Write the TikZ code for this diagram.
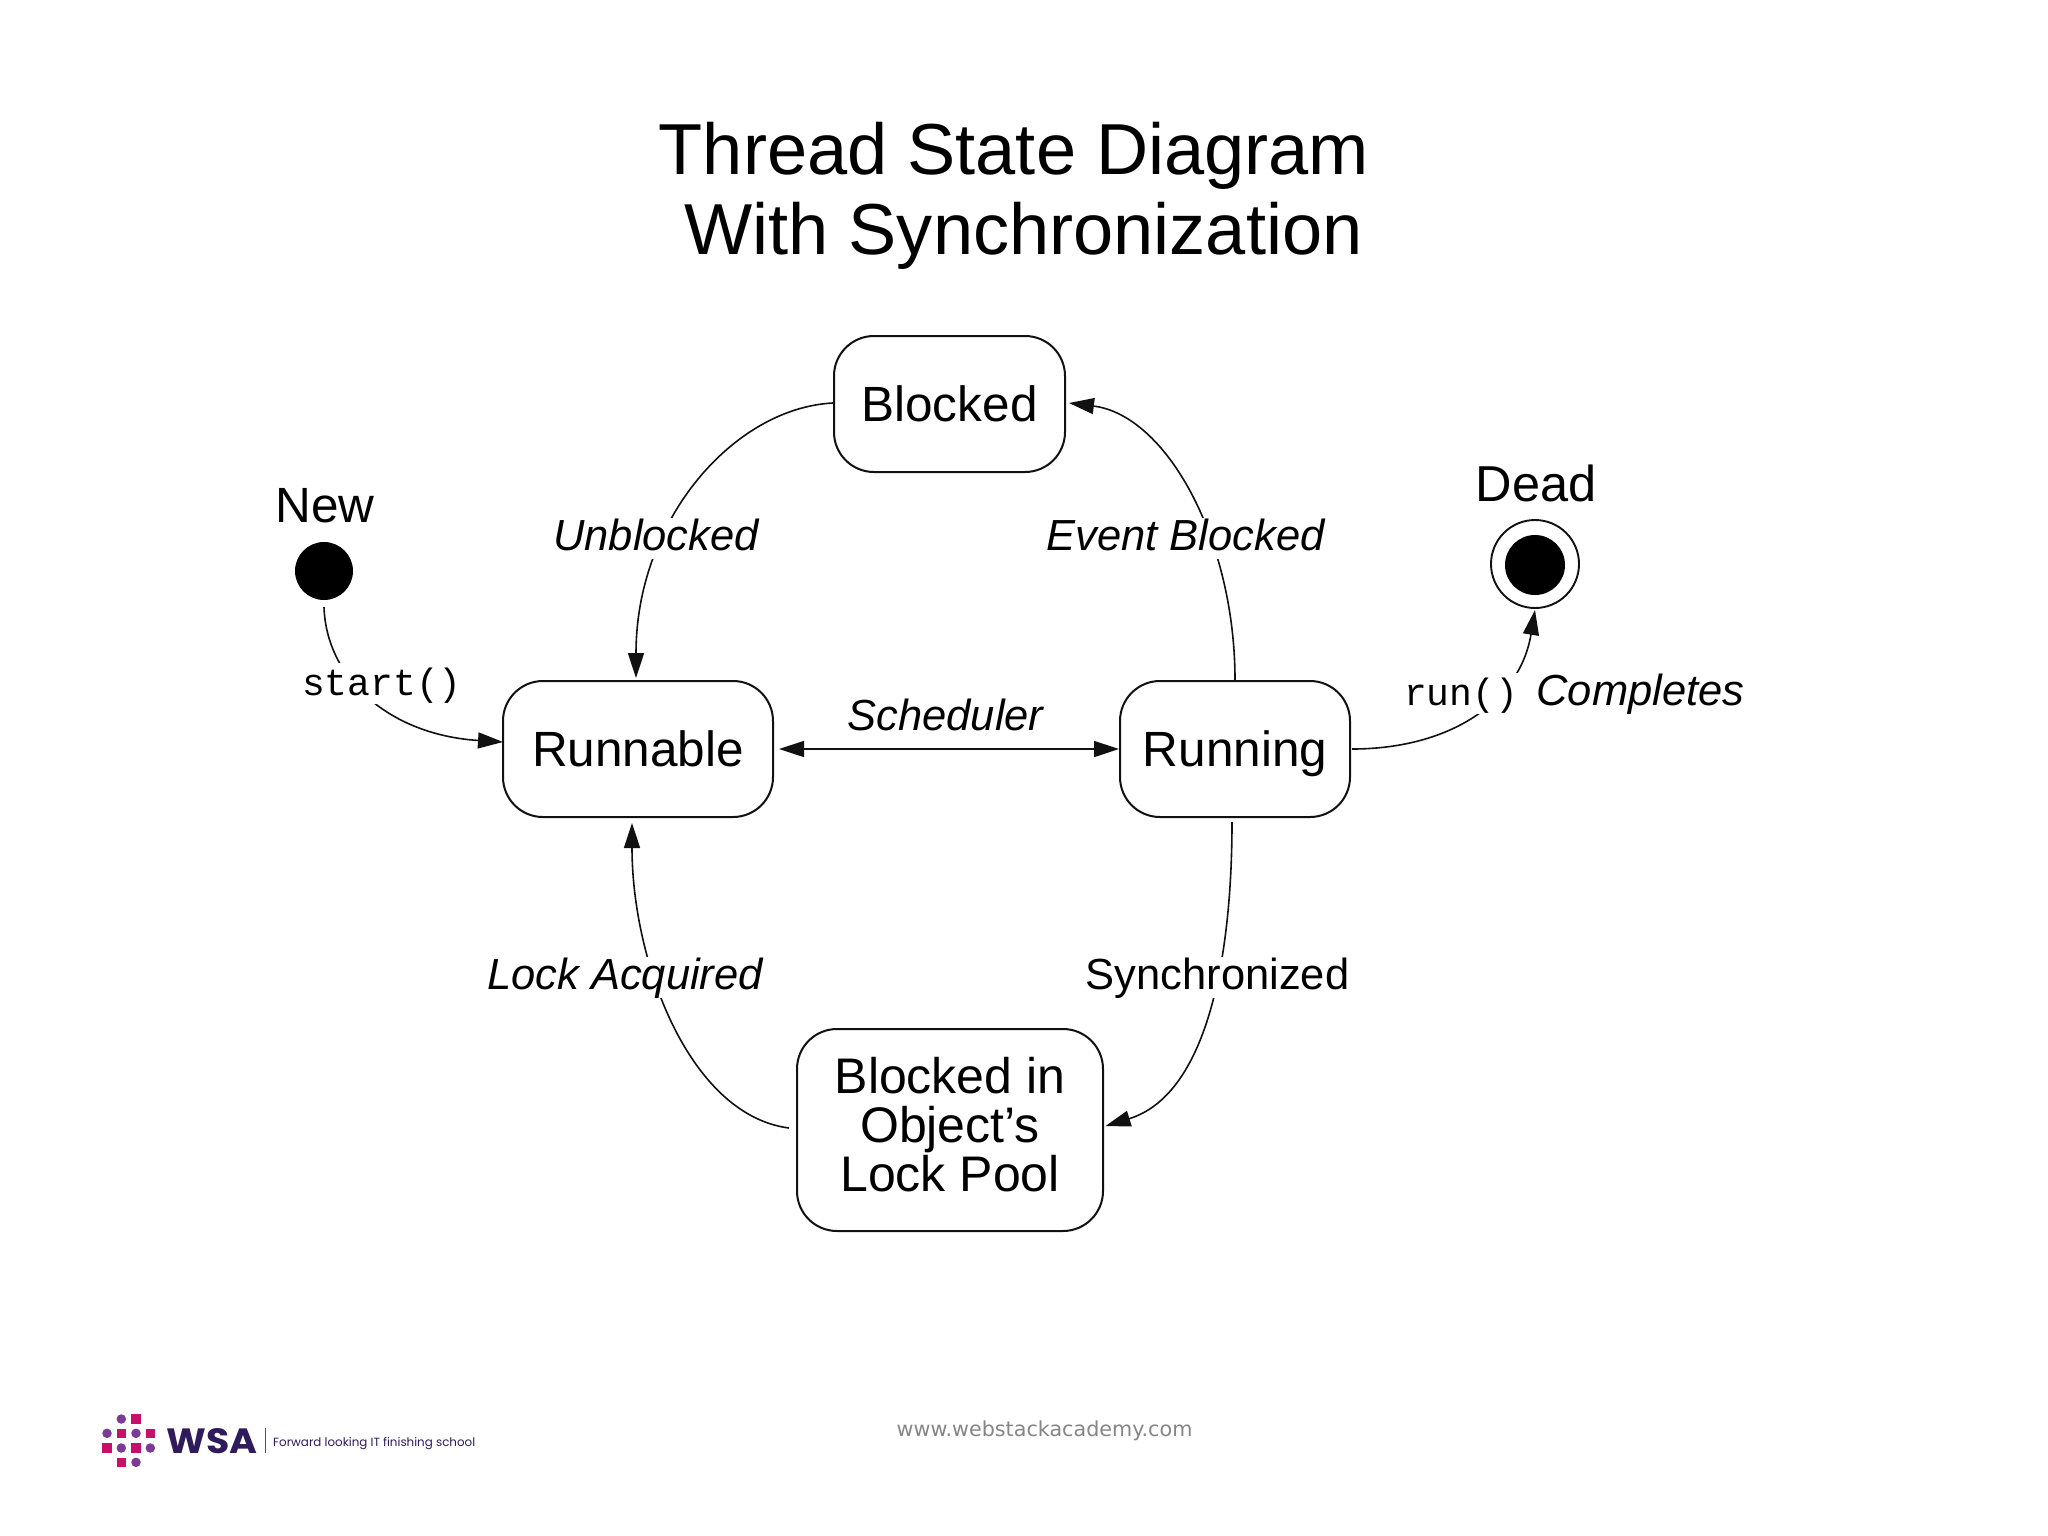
\documentclass[tikz,border=0pt]{standalone}
\usepackage{fontspec}
\usepackage{graphicx}
\setmainfont{Liberation Sans}
\newfontfamily\monof{Liberation Mono}
\newfontfamily\dejav{DejaVu Sans}
\newfontfamily\popp{Poppins}
\usetikzlibrary{arrows.meta}
\definecolor{wsapink}{HTML}{C8106A}
\definecolor{wsapurple}{HTML}{7B3A96}
\definecolor{wsadark}{HTML}{2F1A5B}
\definecolor{ink}{HTML}{111111}
\tikzset{
  x=1pt,y=-1pt,
  statebox/.style={draw=ink,line width=2pt,rounded corners=40pt,inner sep=0pt,
    font=\fontsize{49.5}{49}\selectfont,text height=35pt,text depth=0pt},
  conn/.style={draw=ink,line width=1.6pt,-{Triangle[length=25pt,width=16pt]}},
  stlabel/.style={fill=white,inner sep=0pt,anchor=base,text height=32pt,text depth=9pt,
    font=\fontsize{43.5}{43}\selectfont\itshape},
  codelabel/.style={fill=white,inner sep=0pt,anchor=base,text height=32pt,text depth=9pt,
    font=\fontsize{38}{38}\selectfont\monof},
  namelabel/.style={inner sep=0pt,anchor=base,font=\fontsize{49.5}{49}\selectfont},
  dot/.style={circle,fill=black,inner sep=0pt},
  pinksq/.style={fill=wsapink,inner sep=0pt,minimum size=9.5pt},
  purpdot/.style={circle,fill=wsapurple,inner sep=0pt,minimum size=9.5pt},
}
\begin{document}
\begin{tikzpicture}
\useasboundingbox (0,0) rectangle (2048,1535);
\fill[white] (0,0) rectangle (2048,1535);

\node[inner sep=0pt,align=center,anchor=base,font=\fontsize{72.2}{80}\selectfont] (title) at (1014,254.5)
  {Thread State Diagram\\\hspace*{19pt}With Synchronization};

\node[statebox,minimum width=231pt,minimum height=136pt] (blocked) at (949.5,404) {Blocked};
\node[statebox,minimum width=270pt,minimum height=136pt] (runnable) at (638,749) {Runnable};
\node[statebox,minimum width=230pt,minimum height=136pt] (running) at (1235,749) {Running};
\node[statebox,minimum width=306pt,minimum height=202pt,text height=35pt,text depth=109pt] (lockpool) at (950,1130)
  {\parbox[t]{290pt}{\centering\fontsize{50}{49}\selectfont Blocked in\\Object’s\\Lock Pool}};

\node[dot,minimum size=58pt] (new) at (324,571) {};
\node[namelabel] (newlabel) at (325,522) {New};
\node[circle,draw=ink,line width=1.9pt,inner sep=0pt,minimum size=88pt] (dead) at (1535,564) {};
\node[dot,minimum size=60pt] (deaddot) at (1535,565) {};
\node[namelabel,font=\fontsize{50.5}{49}\selectfont] (deadlabel) at (1536,501) {Dead};

\draw[conn] ([shift={(0,7)}]new.south) .. controls +(2.5,73) and +(-111.5,-7) .. ([shift={(1,-7)}]runnable.west);
\draw[conn] ([shift={(0,-1)}]blocked.west) .. controls +(-99,5) and +(0,-158.5) .. ([shift={(-2,-2)}]runnable.north);
\draw[conn] (running.north) .. controls +(0,-141) and +(97,12) .. ([shift={(3,-1)}]blocked.east);
\draw[conn,{Triangle[length=25pt,width=16pt]}-{Triangle[length=25pt,width=16pt]}] ([shift={(5,0)}]runnable.east) -- ([shift={(0,0)}]running.west);
\draw[conn] ([shift={(1,0)}]running.east) .. controls +(99,0) and +(-15,91) .. ([shift={(0,1)}]dead.south);
\draw[conn] ([shift={(-3,4)}]running.south) .. controls +(0,139) and +(100.5,-31) .. ([shift={(1.5,-4)}]lockpool.east);
\draw[conn] ([shift={(-7,-2)}]lockpool.west) .. controls +(-100,-13) and +(0,138) .. ([shift={(-6,5)}]runnable.south);

\node[stlabel] (lunblocked) at (656,550) {Unblocked};
\node[stlabel] (levent) at (1185.5,550) {Event Blocked};
\node[stlabel] (lsched) at (945.5,730) {Scheduler};
\node[stlabel] (llock) at (625,989) {Lock Acquired};
\node[stlabel,font=\fontsize{43.5}{43}\selectfont] (lsync) at (1217.5,989) {Synchronized};
\node[codelabel] (lstart) at (382,695) {start()};
\node[codelabel] (lrun) at (1461,705) {run()};
\node[stlabel] (lcompletes) at (1640.5,705) {Completes};

\node[inner sep=0pt,anchor=base,text=gray!95,font=\fontsize{20.7}{20.7}\selectfont\dejav] (site) at (1044.5,1436) {www.webstackacademy.com};

% logo
\node[purpdot] (d1) at (121.3,1419) {};
\node[pinksq] (s1) at (136,1419) {};
\node[purpdot] (d2) at (107,1433.3) {};
\node[pinksq] (s2) at (121.3,1433.3) {};
\node[purpdot] (d3) at (136,1433.3) {};
\node[pinksq] (s3) at (150.3,1433.3) {};
\node[pinksq] (s4) at (107,1448) {};
\node[purpdot] (d4) at (121.3,1448) {};
\node[pinksq] (s5) at (136,1448) {};
\node[purpdot] (d5) at (150.3,1448) {};
\node[pinksq] (s6) at (121.3,1462.3) {};
\node[purpdot] (d6) at (136,1462.3) {};
\node[inner sep=0pt,anchor=base west,text=wsadark] (wsa) at (166,1453)
  {\resizebox{91pt}{25pt}{\fontsize{36}{36}\selectfont\popp\bfseries WSA}};
\draw[wsadark!80,line width=1pt] (265,1428) -- (265,1453);
\node[inner sep=0pt,anchor=base west,text=wsadark] (tag) at (273,1446)
  {\resizebox{202pt}{!}{\fontsize{14.5}{15}\selectfont\popp Forward looking IT finishing school}};
\end{tikzpicture}
\end{document}
